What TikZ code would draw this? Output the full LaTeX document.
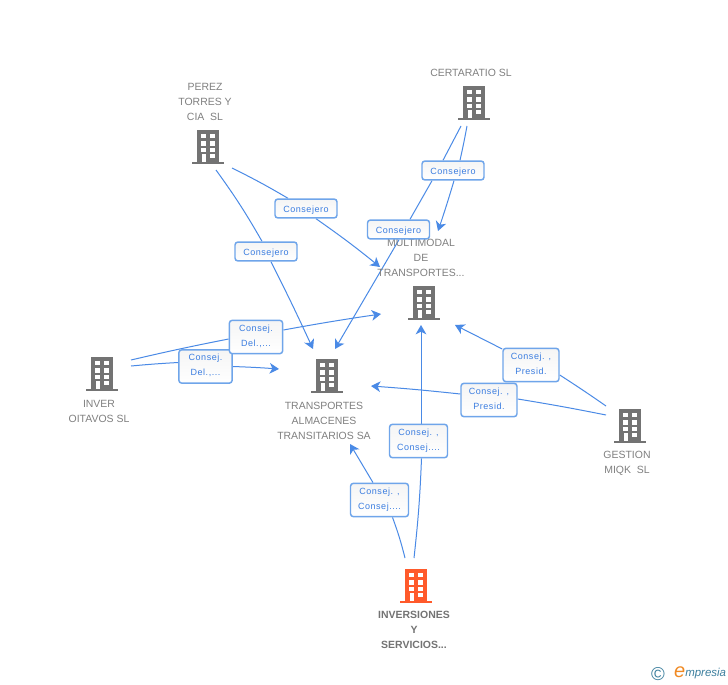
\documentclass[tikz,border=0pt]{standalone}
\usepackage{fontspec}
\setmainfont{Liberation Sans}
\newfontfamily\boxfont[LetterSpace=6]{Liberation Sans}
\usetikzlibrary{arrows.meta,backgrounds}
\definecolor{linkblue}{HTML}{4A8AE6}
\definecolor{boxblue}{HTML}{6FA5EA}
\definecolor{boxtext}{HTML}{3B7DE0}
\definecolor{bldgrey}{HTML}{737373}
\definecolor{bldorange}{HTML}{FF5A2B}
\definecolor{txtgrey}{HTML}{808080}
\definecolor{logoteal}{HTML}{3C7F9E}
\definecolor{logoorange}{HTML}{F08A24}
\newcommand\botpad{\\[-9pt]\mbox{}}
\tikzset{
  x=0.75pt,y=-0.75pt,
  pics/building/.style={code={
    \fill[#1] (-11,-17) rectangle (11,15);
    \fill[#1] (-16,14.5) rectangle (16,17);
    \foreach \yy in {-13,-5.7,0.7}{
      \fill[white] (-7.3,\yy) rectangle (-2.3,\yy+4.4);
      \fill[white] (2.3,\yy) rectangle (7.3,\yy+4.4);
    }
    \fill[white] (2.3,6.7) rectangle (7.3,11);
    \fill[white] (-6.3,7) rectangle (-2.3,14.7);
  }},
  bnode/.style={inner sep=0pt,minimum width=24pt,minimum height=25.5pt},
  cname/.style={text=txtgrey,align=center,inner sep=0pt,font=\fontsize{7.85}{11.25}\selectfont},
  boldname/.style={cname,font=\fontsize{7.85}{11.25}\selectfont\bfseries,text=bldgrey},
  rel/.style={draw=boxblue,line width=1.1pt,rounded corners=2.2pt,top color=gray!8,bottom color=white,
    text=boxtext,align=center,inner sep=0pt,font=\boxfont\fontsize{6.75}{11.25}\selectfont},
  relone/.style={rel,minimum width=46.5pt,minimum height=14.2pt,
    execute at begin node={\rule{0pt}{7.6pt}\ignorespaces}},
  reltwo/.style={rel,minimum width=40pt,minimum height=25pt},
  relthree/.style={reltwo,minimum width=43.5pt},
  link/.style={draw=linkblue,line width=0.75pt},
  arrowlink/.style={link,-{Stealth[length=7pt,width=8pt,inset=2pt]}},
}
\begin{document}
\begin{tikzpicture}
\useasboundingbox (0,0) rectangle (728,685);
\begin{scope}[on background layer]
\fill[white] (0,0) rectangle (728,685);
\end{scope}

% buildings
\node[bnode] (perez) at (208,147) {};
\node[bnode] (cert) at (474,103) {};
\node[bnode] (multi) at (424,303) {};
\node[bnode] (trans) at (327,376) {};
\node[bnode] (inver) at (102,374) {};
\node[bnode] (gest) at (630,426) {};
\node[bnode] (invs) at (416,586) {};
\pic at (perez) {building=bldgrey};
\pic at (cert) {building=bldgrey};
\pic at (multi) {building=bldgrey};
\pic at (trans) {building=bldgrey};
\pic at (inver) {building=bldgrey};
\pic at (gest) {building=bldgrey};
\pic at (invs) {building=bldorange};

% names
\node[cname] (tperez) at (205,102) {PEREZ\\TORRES Y\\CIA\ \ SL};
\node[cname] (tcert) at (471,73) {CERTARATIO SL};
\node[cname] (tmulti) at (421,258) {MULTIMODAL\\DE\\TRANSPORTES...};
\node[cname] (ttrans) at (324,421) {TRANSPORTES\\ALMACENES\\TRANSITARIOS SA};
\node[cname] (tinver) at (99,411.5) {INVER\\OITAVOS SL};
\node[cname] (tgest) at (627,463.5) {GESTION\\MIQK\ \ SL};
\node[boldname] (tinvs) at (414,630) {INVERSIONES\\Y\\SERVICIOS...};

% relation boxes
\node[relone] (r1) at (306,208.5) {Consejero};
\node[relone] (r2) at (266,251.5) {Consejero};
\node[relone] (r3) at (398.5,229.5) {Consejero};
\node[relone] (r4) at (453,170.5) {Consejero};
\node[reltwo] (r6) at (205.5,366.5) {Consej.\\Del.,...\botpad};
\node[reltwo] (r5) at (256,337) {Consej.\\Del.,...\botpad};
\node[reltwo,minimum width=42pt] (r7) at (531,365) {Consej. ,\\Presid.\botpad};
\node[reltwo,minimum width=42pt] (r8) at (489,400) {Consej. ,\\Presid.\botpad};
\node[relthree] (r9) at (418.5,441) {Consej. ,\\Consej....\botpad};
\node[relthree] (r10) at (379.5,500) {Consej. ,\\Consej....\botpad};

% connectors
\begin{scope}[on background layer]
\draw[link] ([shift={(24,21)}]perez.center) to[bend left=2] ([shift={(-18,0)}]r1.north);
\draw[arrowlink] ([shift={(10,0)}]r1.south) to[bend left=2] ([shift={(-44,-36)}]multi.center);

\draw[link] ([shift={(8,23)}]perez.center) to[bend left=3] ([shift={(-4,0)}]r2.north);
\draw[arrowlink] ([shift={(5,0)}]r2.south) to[bend left=1] ([shift={(-14,-27)}]trans.center);

\draw[link] ([shift={(-13,23)}]cert.center) -- ([shift={(-10,0)}]r4.north);
\draw[link] ([shift={(-21,0)}]r4.south) -- ([shift={(11.5,0)}]r3.north);
\draw[arrowlink] ([shift={(0.5,0)}]r3.south) -- ([shift={(8,-27)}]trans.center);

\draw[link] ([shift={(-7,23)}]cert.center) to[bend left=1] ([shift={(7,0)}]r4.north);
\draw[arrowlink] ([shift={(1,0)}]r4.south) to[bend left=1] ([shift={(14,-72)}]multi.center);

\draw[link] ([shift={(29,-14)}]inver.center) to[bend left=1] ([shift={(0,2)}]r5.west);
\draw[arrowlink] ([shift={(0,-7)}]r5.east) to[bend left=1] ([shift={(-43,11)}]multi.center);

\draw[link] ([shift={(29,-8)}]inver.center) to[bend left=1] ([shift={(0,-4)}]r6.west);
\draw[arrowlink] ([shift={(0,0)}]r6.east) to[bend left=1] ([shift={(-48,-7)}]trans.center);

\draw[link] ([shift={(-24,-20)}]gest.center) to[bend right=1] ([shift={(0,10)}]r7.east);
\draw[arrowlink] ([shift={(0,-16)}]r7.west) -- ([shift={(31,22)}]multi.center);

\draw[link] ([shift={(-24,-11)}]gest.center) to[bend right=1] ([shift={(0,-1)}]r8.east);
\draw[arrowlink] ([shift={(0,-6)}]r8.west) to[bend right=1] ([shift={(44,10)}]trans.center);

\draw[link] ([shift={(-2,-28)}]invs.center) to[bend right=2] ([shift={(3,0)}]r9.south);
\draw[arrowlink] ([shift={(2.5,0)}]r9.north) -- ([shift={(-3,22)}]multi.center);

\draw[link] ([shift={(-11,-28)}]invs.center) to[bend right=3] ([shift={(13,0)}]r10.south);
\draw[arrowlink] ([shift={(-6.5,0)}]r10.north) -- ([shift={(23,68)}]trans.center);
\end{scope}

% logo
\node[text=logoteal,inner sep=0pt,font=\fontsize{14}{16}\selectfont] (copy) at (658,674.5) {©};
\node[text=logoteal,inner sep=0pt,anchor=west,font=\fontsize{8.6}{10}\selectfont\itshape] (logo) at (685,674) {mpresia};
\node[text=logoorange,inner sep=0pt,anchor=east,font=\fontsize{15}{16}\selectfont\itshape] (loge) at (685.5,672) {e};
\end{tikzpicture}
\end{document}
